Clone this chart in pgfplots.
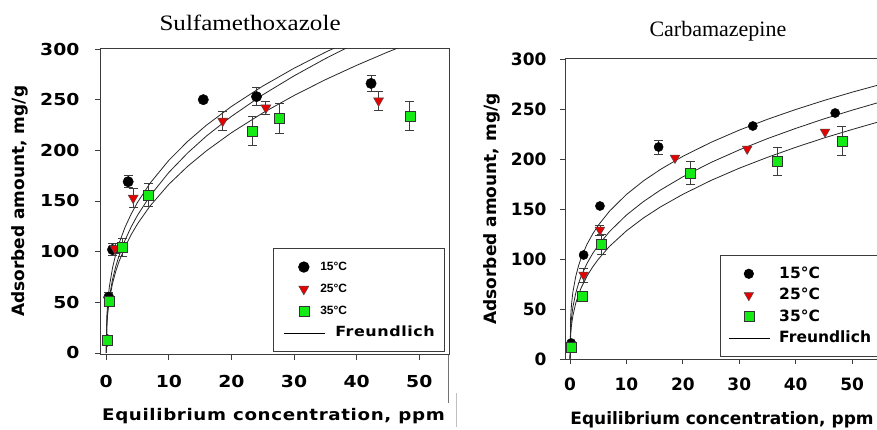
\documentclass[border=0pt]{standalone}
\usepackage{fontspec}
\setmainfont{Liberation Serif}
\usepackage{pgfplots}
\pgfplotsset{compat=1.18}
\newfontfamily\vsL[FakeStretch=1.14]{DejaVu Sans}
\newfontfamily\vsLS[FakeStretch=1.14,LetterSpace=4]{DejaVu Sans}
\newfontfamily\vsR{DejaVu Sans}
\newfontfamily\arl{Liberation Sans}
\newfontfamily\tmsL[FakeStretch=1.14]{Liberation Serif}
\definecolor{mkgreen}{RGB}{20,235,20}
\definecolor{mkred}{RGB}{230,0,0}
\definecolor{axgray}{RGB}{60,60,60}

\pgfplotsset{
  isotherm/.style={
    scale only axis, anchor=south west,
    axis line style={axgray, line width=1bp},
    tick align=outside, tick pos=left, major tick length=5bp,
    tick style={axgray, line width=0.9bp},
    /pgf/number format/assume math mode=true,
    xtick={0,10,...,50}, ytick={0,50,...,300},
    legend cell align=left,
  },
  fcurve/.style={forget plot, no marks, black!85, line width=0.8bp},
  ebars/.style={forget plot, only marks, mark=none,
    error bars/.cd, y dir=both, y explicit,
    error bar style={axgray, line width=0.8bp},
    error mark options={axgray, line width=0.8bp, mark size=4.5bp, rotate=90}},
  t15/.style={only marks, mark=*, mark size=#1, mark options={fill=black, draw=black}},
  t25/.style={only marks, mark=triangle*, mark size=#1, mark options={rotate=180, fill=mkred, draw=black!70, line width=0.5bp}},
  t35/.style={only marks, mark=square*, mark size=#1, mark options={fill=mkgreen, draw=black!80, line width=0.6bp}},
  % legend pictures: a mark in a 41bp wide slot, or a 41bp line
  mkleg/.style={legend image code/.code={%
    \path[draw=none, fill=none] (0bp,0bp) -- (41bp,0bp);
    \draw[##1] plot[only marks] coordinates {(20bp,0bp)};}},
  lnleg/.style={legend image code/.code={\draw[##1] (0bp,0bp) -- (41bp,0bp);}},
}

\begin{document}
\begin{tikzpicture}
% ---------------- Sulfamethoxazole ----------------
\begin{axis}[isotherm,
  at={(100bp,75bp)}, width=349bp, height=306bp,
  xmin=-1, xmax=54.75, ymin=-2, ymax=300,
  ticklabel style={font=\vsL\bfseries\fontsize{16.5bp}{18bp}\selectfont},
  xticklabel style={yshift=-12bp},
  yticklabel style={xshift=-12bp},
  title={Sulfamethoxazole},
  title style={font=\tmsL\fontsize{22bp}{24bp}\selectfont, at={(axis description cs:0.43,1.066)}, anchor=center},
  xlabel={Equilibrium concentration, ppm},
  xlabel style={font=\vsLS\bfseries\fontsize{16bp}{18bp}\selectfont, at={(axis description cs:0.497,-0.2)}, anchor=center},
  ylabel={Adsorbed amount, mg/g},
  ylabel style={font=\vsR\bfseries\fontsize{17bp}{19bp}\selectfont, at={(axis description cs:-0.229,0.502)}, anchor=center},
  legend style={at={(axis description cs:0.4957,0.0098)}, anchor=south west,
    draw=axgray, line width=0.9bp, inner xsep=10bp, inner ysep=12bp,
    row sep=9bp, column sep=10bp,
    nodes={inner sep=0pt, text height=10bp, text depth=3bp}},
]
% Freundlich fits
\addplot[fcurve] coordinates {(0,0) (0.1,37.1) (0.25,51.3) (0.5,65.7) (1,84) (1.5,97.0) (2,107.4) (3,124.1) (4,137.4) (5,148.7) (7,167.6) (10,190.2) (13,208.8) (16,224.8) (20,243.3) (25,263.4) (30,281.0) (35,296.8) (40,311.2)};
\addplot[fcurve] coordinates {(0,0) (0.1,29.6) (0.25,42.3) (0.5,55.4) (1,72.6) (1.5,85.0) (2,95.1) (3,111.4) (4,124.7) (5,136.0) (7,155.1) (10,178.2) (13,197.4) (16,214.1) (20,233.5) (25,254.8) (30,273.5) (35,290.5) (40,306.0)};
\addplot[fcurve] coordinates {(0,0) (0.1,28.3) (0.25,40.2) (0.5,52.5) (1,68.6) (1.5,80.2) (2,89.6) (3,104.7) (4,117.0) (5,127.5) (7,145.1) (10,166.5) (13,184.2) (16,199.5) (20,217.4) (25,236.9) (30,254.1) (35,269.7) (40,283.9) (45,297.1) (50,309.3)};
% error bars
\addplot[ebars] coordinates {(0.4,55) +- (0,5) (1.0,102) +- (0,6) (3.5,169) +- (0,6) (24.0,253) +- (0,9) (42.3,266) +- (0,8)};
\addplot[ebars] coordinates {(1.4,103) +- (0,5) (4.3,153) +- (0,9.5) (18.6,229) +- (0,9) (25.5,242) +- (0,6.5) (43.5,249) +- (0,9.5)};
\addplot[ebars] coordinates {(0.5,51) +- (0,5) (2.6,104) +- (0,9) (6.7,156) +- (0,11.5) (23.3,219) +- (0,14) (27.7,231.5) +- (0,14.5) (48.5,234) +- (0,14)};
% measured points
\addplot[t15=5.2bp, mkleg] coordinates {(0.2,13) (0.4,55) (1.0,102) (3.5,169) (15.5,250) (24.0,253) (42.3,266)};
\addlegendentry{\arl\bfseries\fontsize{12bp}{14bp}\selectfont\hspace*{-15bp}15°C}
\addplot[t25=5.8bp, mkleg] coordinates {(0.2,12) (0.5,53) (1.4,103) (4.3,153) (18.6,229) (25.5,242) (43.5,249)};
\addlegendentry{\arl\bfseries\fontsize{12bp}{14bp}\selectfont\hspace*{-15bp}25°C}
\addplot[t35=5bp, mkleg] coordinates {(0.2,13) (0.5,51) (2.6,104) (6.7,156) (23.3,219) (27.7,231.5) (48.5,234)};
\addlegendentry{\arl\bfseries\fontsize{12bp}{14bp}\selectfont\hspace*{-15bp}35°C}
\addlegendimage{black, line width=0.8bp, lnleg}
\addlegendentry{\vsLS\bfseries\fontsize{14bp}{16bp}\selectfont Freundlich}
\end{axis}

% ---------------- Carbamazepine ----------------
\begin{axis}[isotherm,
  at={(565bp,71bp)}, width=314bp, height=300bp,
  xmin=-0.9, xmax=54.77, ymin=0, ymax=300,
  ticklabel style={font=\vsR\bfseries\fontsize{17bp}{19bp}\selectfont},
  xticklabel style={yshift=-10bp},
  yticklabel style={xshift=-10bp},
  title={Carbamazepine},
  title style={font=\fontsize{22bp}{24bp}\selectfont, at={(axis description cs:0.487,1.072)}, anchor=center},
  xlabel={Equilibrium concentration, ppm},
  xlabel style={font=\vsR\bfseries\fontsize{17bp}{19bp}\selectfont, at={(axis description cs:0.006,-0.203)}, anchor=west},
  ylabel={Adsorbed amount, mg/g},
  ylabel style={font=\vsR\bfseries\fontsize{17bp}{19bp}\selectfont, at={(axis description cs:-0.232,0.5)}, anchor=center},
  legend style={at={(axis description cs:0.4936,0.0067)}, anchor=south west,
    draw=axgray, line width=0.9bp, inner xsep=8bp, inner ysep=10.5bp,
    row sep=6bp, column sep=9bp,
    nodes={inner sep=0pt, text height=12bp, text depth=3.5bp}},
]
\addplot[fcurve] coordinates {(0,0) (0.1,41.4) (0.25,54.4) (0.5,67.0) (1,82.5) (1.5,93.2) (2,101.6) (3,114.7) (4,125.0) (5,133.7) (7,147.9) (10,164.6) (13,178.1) (16,189.5) (20,202.7) (25,216.7) (30,228.9) (35,239.7) (40,249.5) (45,258.5) (50,266.8) (55,274.5)};
\addplot[fcurve] coordinates {(0,0) (0.1,30.1) (0.25,41.1) (0.5,52.0) (1,65.8) (1.5,75.5) (2,83.3) (3,95.6) (4,105.4) (5,113.7) (7,127.5) (10,144.0) (13,157.4) (16,168.9) (20,182.2) (25,196.6) (30,209.1) (35,220.4) (40,230.6) (45,240.1) (50,248.8) (55,257.0)};
\addplot[fcurve] coordinates {(0,0) (0.1,24.2) (0.25,33.7) (0.5,43.3) (1,55.7) (1.5,64.5) (2,71.6) (3,82.9) (4,92.0) (5,99.7) (7,112.7) (10,128.2) (13,141.0) (16,152.0) (20,164.7) (25,178.6) (30,190.8) (35,201.7) (40,211.7) (45,221.0) (50,229.5) (55,237.6)};
\addplot[ebars] coordinates {(15.7,212) +- (0,7)};
\addplot[ebars] coordinates {(2.4,84) +- (0,7) (5.3,129) +- (0,5)};
\addplot[ebars] coordinates {(5.5,115) +- (0,10) (21.4,186) +- (0,11.5) (36.8,198) +- (0,14) (48.2,218) +- (0,14.5)};
\addplot[t15=4.6bp, mkleg] coordinates {(0.2,16) (2.4,104) (5.3,153) (15.7,212) (32.4,233) (47,246)};
\addlegendentry{\vsR\bfseries\fontsize{15.5bp}{17bp}\selectfont 15°C}
\addplot[t25=5.5bp, mkleg] coordinates {(0.2,14) (2.4,84) (5.3,129) (18.6,201) (31.4,210) (45.2,227)};
\addlegendentry{\vsR\bfseries\fontsize{15.5bp}{17bp}\selectfont 25°C}
\addplot[t35=5bp, mkleg] coordinates {(0.3,12) (2.2,63) (5.5,115) (21.4,186) (36.8,198) (48.2,218)};
\addlegendentry{\vsR\bfseries\fontsize{15.5bp}{17bp}\selectfont 35°C}
\addlegendimage{black, line width=0.8bp, lnleg}
\addlegendentry{\vsR\bfseries\fontsize{15.5bp}{17bp}\selectfont Freundlich}
\end{axis}

% panel frame remnants
\draw[black!55, line width=0.8bp] (448bp,75bp) -- (448bp,27bp);
\draw[black!25, line width=0.8bp] (456bp,37bp) -- (456bp,3bp);

\pgfresetboundingbox
\path[use as bounding box] (0bp,0bp) rectangle (877bp,430bp);
\end{tikzpicture}
\end{document}
